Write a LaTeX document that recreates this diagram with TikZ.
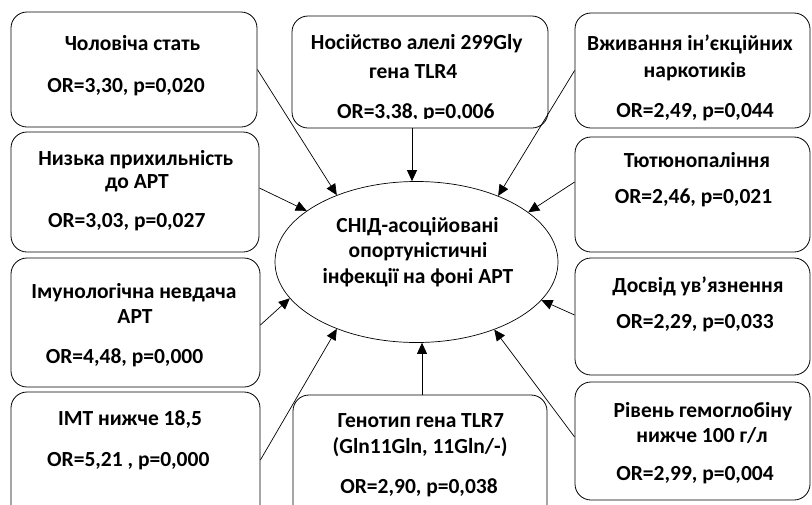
\documentclass[tikz,border=0pt]{standalone}
\usepackage{fontspec}
\setmainfont{Carlito}
\usetikzlibrary{shapes.geometric,arrows.meta}
\tikzset{
  box/.style={draw, rounded corners=16pt, line width=0.8pt, inner sep=0pt},
  ln/.style={anchor=base, inner sep=0pt, font=\fontsize{21.5}{26}\selectfont\bfseries},
  arr/.style={-{Triangle[length=11pt,width=10pt]}, line width=0.7pt},
}
\begin{document}
\begin{tikzpicture}[x=1pt,y=-1pt]
\useasboundingbox (0,0) rectangle (812,504);
\clip (0,0) rectangle (812,504);
% boxes
\node[box, minimum width=246pt, minimum height=115pt] (b1) at (134,69.5) {};
\node[box, minimum width=256pt, minimum height=112pt] (b2) at (420,72) {};
\node[box, minimum width=235pt, minimum height=115pt] (b3) at (692.5,70.5) {};
\node[box, minimum width=248pt, minimum height=120pt] (b4) at (135,192) {};
\node[box, minimum width=235pt, minimum height=115pt] (b5) at (692.5,194.5) {};
\node[box, minimum width=249pt, minimum height=129pt] (b6) at (135.5,322.5) {};
\node[box, minimum width=235pt, minimum height=117pt] (b7) at (692.5,316.5) {};
\node[box, minimum width=249pt, minimum height=136pt] (b8) at (135.5,460) {};
\node[box, minimum width=254pt, minimum height=130pt] (b9) at (420,460) {};
\node[box, minimum width=235pt, minimum height=118pt] (b10) at (692.5,441) {};
% ellipse
\node[draw, ellipse, minimum width=283pt, minimum height=161pt, inner sep=0pt, line width=0.7pt] (ell) at (416.5,262) {};
% texts
\node[ln] (t1a) at (132.5,50) {Чоловіча стать};
\node[ln] (t1b) at (126,92) {OR=3,30, p=0,020};
\node[ln] (t2a) at (416.7,49) {Носійство алелі 299Gly};
\node[ln] (t2b) at (413.3,78) {гена TLR4};
\begin{scope}
\clip (292,16) rectangle (548,118.5);
\node[ln] (t2c) at (415.8,118.5) {OR=3,38, p=0,006};
\end{scope}
\node[ln] (t3a) at (690,50) {Вживання ін’єкційних};
\node[ln] (t3b) at (695,77) {наркотиків};
\node[ln] (t3c) at (695,117) {OR=2,49, p=0,044};
\node[ln] (t4a) at (135.8,165) {Низька прихильність};
\node[ln] (t4b) at (137,188) {до АРТ};
\node[ln] (t4c) at (126.7,227) {OR=3,03, p=0,027};
\node[ln] (t5a) at (697,167) {Тютюнопаління};
\node[ln] (t5b) at (693.5,203) {OR=2,46, p=0,021};
\node[ln] (t6a) at (134,298) {Імунологічна невдача};
\node[ln] (t6b) at (135,323) {АРТ};
\node[ln] (t6c) at (124.5,363) {OR=4,48, p=0,000};
\node[ln] (t7a) at (698,292) {Досвід ув’язнення};
\node[ln] (t7b) at (695,328) {OR=2,29, p=0,033};
\node[ln] (t8a) at (130,425) {ІМТ нижче 18,5};
\node[ln] (t8b) at (128.3,466) {OR=5,21 , p=0,000};
\node[ln] (t9a) at (420.8,427) {Генотип гена TLR7};
\node[ln] (t9b) at (420,453) {(Gln11Gln, 11Gln/-)};
\node[ln] (t9c) at (419,493) {OR=2,90, p=0,038};
\node[ln] (t10a) at (703,417) {Рівень гемоглобіну};
\node[ln] (t10b) at (702,442) {нижче 100 г/л};
\node[ln] (t10c) at (695,480) {OR=2,99, p=0,004};
\node[ln] (te1) at (417.5,232) {СНІД-асоційовані};
\node[ln] (te2) at (418,257) {опортуністичні};
\node[ln] (te3) at (418,283) {інфекції на фоні АРТ};
% arrows
\draw[arr] (b1.east) -- (ell.140);
\draw[arr] ([xshift=-8pt]b2.south) -- ([xshift=-8pt]b2.south |- ell.north);
\draw[arr] (b3.west) -- (ell.39.3);
\draw[arr] ([yshift=4pt]b4.east) -- (ell.155.7);
\draw[arr] ([yshift=12.5pt]b5.west) -- (ell.24.9);
\draw[arr] ([yshift=-2.5pt]b6.east) -- (ell.196.5);
\draw[arr] ([yshift=1.5pt]b7.west) -- (ell.343.2);
\draw[arr] (b8.east) -- (ell.220.9);
\draw[arr] ([xshift=2pt]b9.north) -- ([xshift=2pt]b9.north |- ell.south);
\draw[arr] ([yshift=4pt]b10.west) -- (ell.319.8);
\end{tikzpicture}
\end{document}
